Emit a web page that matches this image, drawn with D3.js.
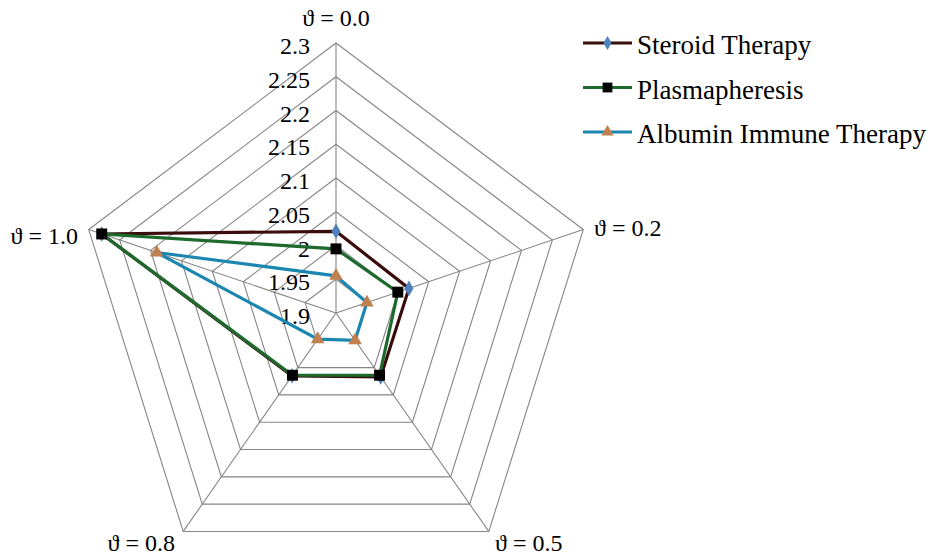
<!DOCTYPE html>
<html>
<head>
<meta charset="utf-8">
<script src="https://cdn.jsdelivr.net/npm/d3@7"></script>
<style>
  body { margin: 0; background: #fff; }
</style>
</head>
<body>
<div id="wrapper"></div>
<script>
const axes = ["\u03D1 = 0.0", "\u03D1 = 0.2", "\u03D1 = 0.5", "\u03D1 = 0.8", "\u03D1 = 1.0"]
const tickValues = [1.9, 1.95, 2, 2.05, 2.1, 2.15, 2.2, 2.25, 2.3]
const steroid = [2.021, 2.018, 2.017, 2.015, 2.279]
const plasma = [1.995, 2.0, 2.014, 2.014, 2.279]
const albumin = [1.955, 1.95, 1.95, 1.948, 2.19]
const seriesNames = ["Steroid Therapy", "Plasmapheresis", "Albumin Immune Therapy"]

const FONT = '"Liberation Serif"'

function drawRadar() {
    let dimensions = {
        width: 936,
        height: 557,
        cx: 336,
        cy: 313,
        radius: 270,
        sx: 0.963,
    }
    const svg = d3.select("#wrapper")
        .append("svg")
            .attr("width", dimensions.width)
            .attr("height", dimensions.height)
            .style("font-family", FONT)

    const rScale = d3.scaleLinear()
        .domain([tickValues[0], tickValues[tickValues.length - 1]])
        .range([0, dimensions.radius])
    const angleScale = d3.scaleLinear()
        .domain([0, axes.length])
        .range([0, 2 * Math.PI])

    const pt = (i, r) => {
        const a = angleScale(i)
        return [dimensions.cx + dimensions.sx * r * Math.sin(a), dimensions.cy - r * Math.cos(a)]
    }

    const grid = svg.append("g")
    // rings
    tickValues.slice(1).forEach(v => {
        const pts = axes.map((d, i) => pt(i, rScale(v)))
        grid.append("polygon")
            .attr("points", pts.map(p => p.join(",")).join(" "))
            .attr("fill", "none")
            .attr("stroke", "#858585")
            .attr("stroke-width", 1.1)
    })
    // spokes
    axes.forEach((d, i) => {
        const [x, y] = pt(i, dimensions.radius)
        grid.append("line")
            .attr("x1", dimensions.cx).attr("y1", dimensions.cy)
            .attr("x2", x).attr("y2", y)
            .attr("stroke", "#858585")
            .attr("stroke-width", 1.1)
    })

    // tick labels
    tickValues.forEach(v => {
        svg.append("text")
            .attr("x", dimensions.cx - 26)
            .attr("y", dimensions.cy - rScale(v) + 11)
            .attr("text-anchor", "end")
            .attr("font-family", "Liberation Serif")
            .style("font-family", FONT)
            .style("font-size", "24px")
            .text(String(v))
    })

    // axis labels
    const labelPos = [
        {x: 336, y: 26, anchor: "middle"},
        {x: 594, y: 236, anchor: "start"},
        {x: 495, y: 551, anchor: "start"},
        {x: 175, y: 551, anchor: "end"},
        {x: 78, y: 244, anchor: "end"},
    ]
    axes.forEach((d, i) => {
        svg.append("text")
            .attr("x", labelPos[i].x)
            .attr("y", labelPos[i].y)
            .attr("text-anchor", labelPos[i].anchor)
            .attr("font-family", "Liberation Serif")
            .style("font-family", FONT)
            .style("font-size", "24px")
            .text(d)
    })

    const series = [
        {name: seriesNames[0], values: steroid, line: "#3a0c0c", fill: "#4f81bd", symbol: d3.symbolDiamond, size: 70},
        {name: seriesNames[1], values: plasma, line: "#1d6a2c", fill: "#000000", symbol: d3.symbolSquare, size: 120},
        {name: seriesNames[2], values: albumin, line: "#1b87b0", fill: "#c0804f", symbol: d3.symbolTriangle, size: 80},
    ]

    const lineGen = d3.line().curve(d3.curveLinearClosed)
    series.forEach(s => {
        svg.append("path")
            .attr("d", lineGen(s.values.map((v, i) => pt(i, rScale(v)))))
            .attr("fill", "none")
            .attr("stroke", s.line)
            .attr("stroke-width", 3.2)
    })
    series.forEach(s => {
        svg.append("g").selectAll("path")
            .data(s.values)
            .join("path")
                .attr("d", d3.symbol(s.symbol, s.size))
                .attr("transform", (v, i) => `translate(${pt(i, rScale(v))})`)
                .attr("fill", s.fill)
    })

    // legend
    const legend = svg.append("g").attr("transform", "translate(583,43)")
    series.forEach((s, i) => {
        const g = legend.append("g").attr("transform", `translate(0,${i * 44.5})`)
        g.append("line")
            .attr("x1", 0).attr("x2", 49)
            .attr("stroke", s.line).attr("stroke-width", 3.2)
        g.append("path")
            .attr("d", d3.symbol(s.symbol, s.size * 0.8))
            .attr("transform", "translate(24.5,0)")
            .attr("fill", s.fill)
        g.append("text")
            .attr("x", 54)
            .attr("y", 11)
            .style("font-family", FONT)
            .style("font-size", "27px")
            .text(s.name)
    })
}
drawRadar()
</script>
</body>
</html>
